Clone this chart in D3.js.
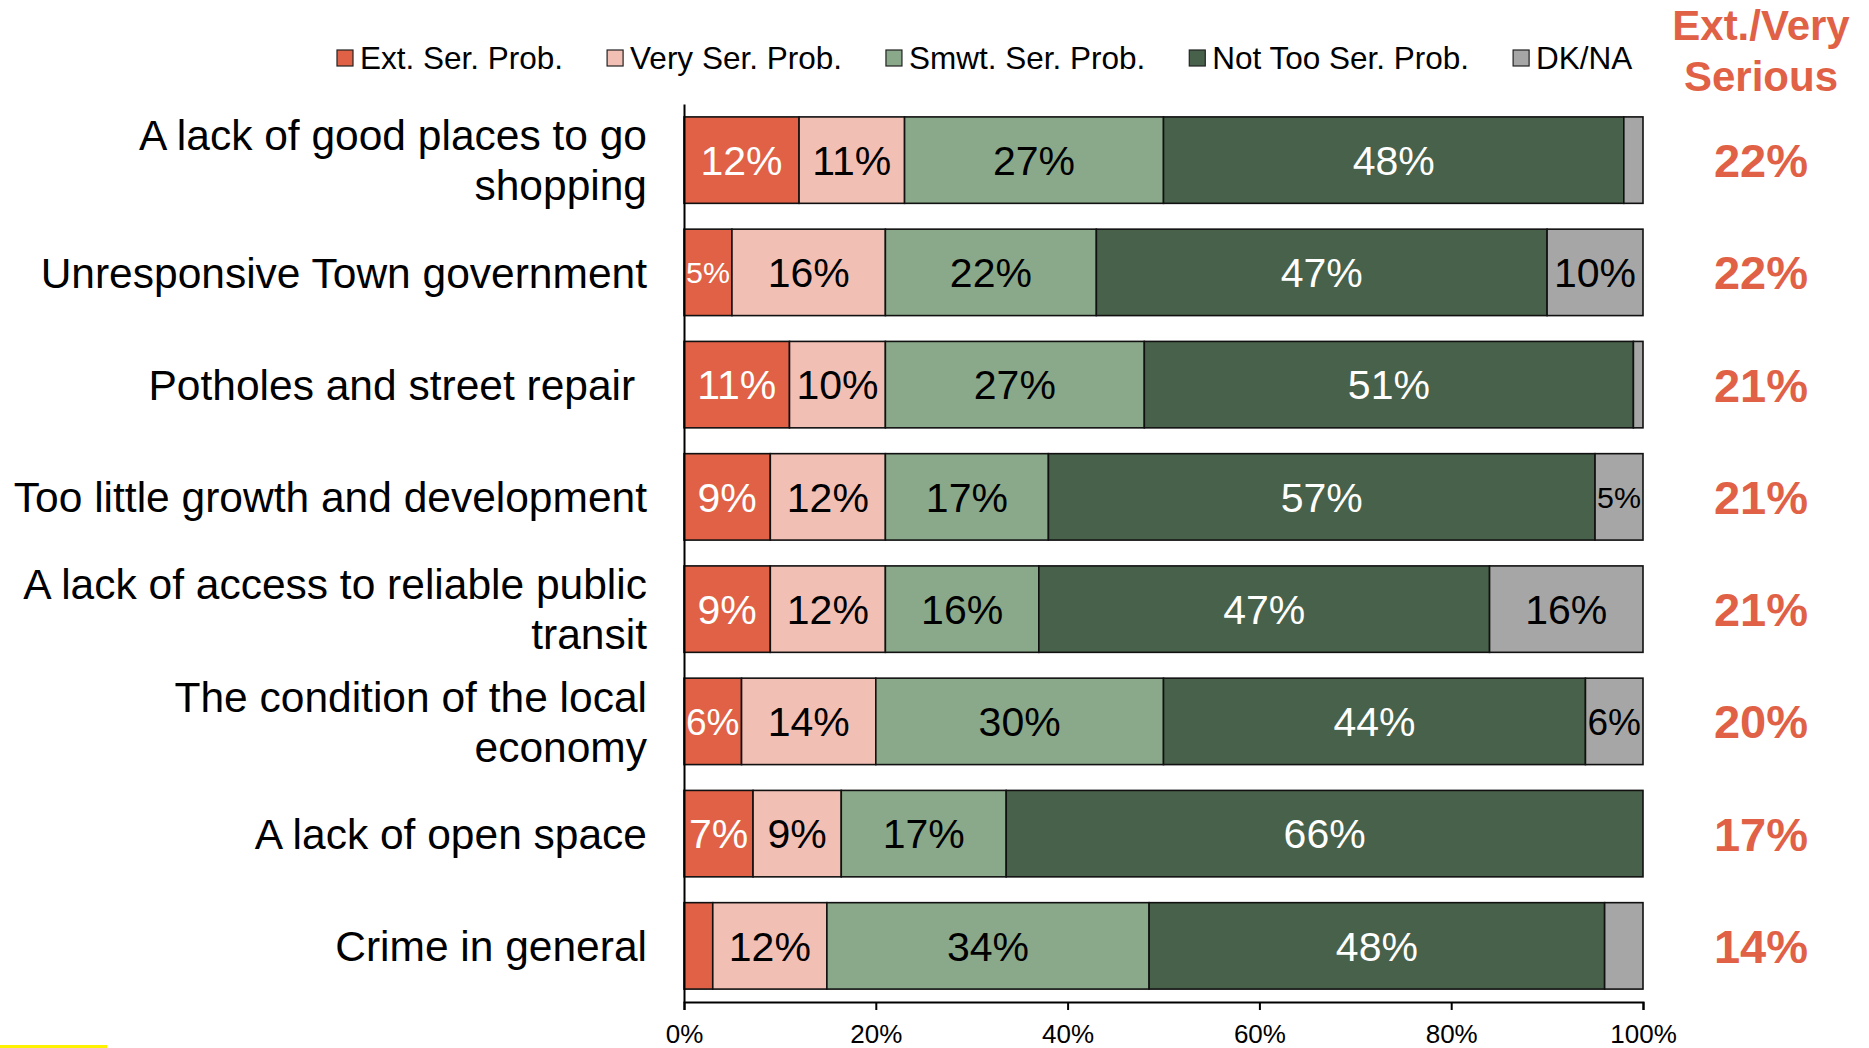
<!DOCTYPE html>
<html>
<head>
<meta charset="utf-8">
<script src="https://cdn.jsdelivr.net/npm/d3@7"></script>
<style>
  body { margin: 0; background: #fff; }
  svg text { font-family: "Liberation Sans", Arial, sans-serif; }
</style>
</head>
<body>
<script>

// chart data
var categories = [
    "A lack of good places to go shopping",
    "Unresponsive Town government",
    "Potholes and street repair ",
    "Too little growth and development",
    "A lack of access to reliable public transit",
    "The condition of the local economy",
    "A lack of open space",
    "Crime in general"
];
var seriesNames = ["Ext. Ser. Prob.", "Very Ser. Prob.", "Smwt. Ser. Prob.", "Not Too Ser. Prob.", "DK/NA"];
var extSer   = [12, 5, 11, 9, 9, 6, 7.2, 3];
var verySer  = [11, 16, 10, 12, 12, 14, 9.2, 11.9];
var smwtSer  = [27, 22, 27, 17, 16, 30, 17.2, 33.6];
var notToo   = [48, 47, 51, 57, 47, 44, 66.4, 47.5];
var dkna     = [2, 10, 1, 5, 16, 6, 0, 4];
var extVery  = [22, 22, 21, 21, 21, 20, 17, 14];
var xTicks   = [0, 20, 40, 60, 80, 100];

var colors = ["#e06145", "#f2bfb4", "#8aa98a", "#48614a", "#a6a6a6"];
var labelColors = ["#fff", "#000", "#000", "#fff", "#000"];
var accent = "#e06145";

var margin = {top: 104, right: 226, bottom: 46, left: 684},
    width = 1869 - margin.left - margin.right,
    height = 1048 - margin.top - margin.bottom;

var rows = categories.map(function(c, i) {
    return {cat: c, vals: [extSer[i], verySer[i], smwtSer[i], notToo[i], dkna[i]], total: extVery[i]};
});

var x = d3.scaleLinear().domain([0, 100]).range([0, width]);

var y = d3.scaleBand()
    .domain(categories)
    .range([0, height])
    .paddingInner(0.23)
    .paddingOuter(0.115);

var svg = d3.select("body").append("svg")
    .attr("width", width + margin.left + margin.right)
    .attr("height", height + margin.top + margin.bottom);

var main = svg.append("g")
    .attr("transform", "translate(" + margin.left + "," + margin.top + ")");

// stacked segments
var rowG = main.selectAll(".row")
    .data(rows)
    .enter().append("g")
    .attr("class", "row")
    .attr("transform", function(d) { return "translate(0," + y(d.cat) + ")"; });

rowG.each(function(d) {
    var g = d3.select(this);
    var acc = 0;
    var segs = d.vals.map(function(v, k) {
        var s = {k: k, v: v, x0: acc, x1: acc + v};
        acc += v;
        return s;
    }).filter(function(s) { return s.v > 0; });

    g.selectAll("rect")
        .data(segs)
        .enter().append("rect")
        .attr("x", function(s) { return x(s.x0); })
        .attr("width", function(s) { return x(s.x1) - x(s.x0); })
        .attr("y", 0)
        .attr("height", y.bandwidth())
        .attr("fill", function(s) { return colors[s.k]; })
        .attr("stroke", "#111")
        .attr("stroke-width", 1.6);

    g.selectAll("text")
        .data(segs.filter(function(s) { return Math.round(s.v) >= 5; }))
        .enter().append("text")
        .attr("x", function(s) { return (x(s.x0) + x(s.x1)) / 2; })
        .attr("y", y.bandwidth() / 2)
        .attr("dy", "0.36em")
        .attr("text-anchor", "middle")
        .attr("fill", function(s) { return labelColors[s.k]; })
        .style("font-size", "41px")
        .text(function(s) { return Math.round(s.v) + "%"; })
        .each(function(s) {
            // shrink labels that do not fit inside a narrow segment
            var avail = x(s.x1) - x(s.x0) - 4;
            var w = this.getComputedTextLength();
            if (w > avail) d3.select(this).style("font-size", (41 * avail / w) + "px");
        });
});

// x axis
var xAxis = d3.axisBottom(x)
    .tickValues(xTicks)
    .tickSize(8)
    .tickPadding(15)
    .tickFormat(function(d) { return d + "%"; });

var gx = main.append("g")
    .attr("transform", "translate(0," + height + ")")
    .call(xAxis);
gx.select(".domain").attr("stroke", "#000").attr("stroke-width", 2);
gx.selectAll(".tick line").attr("stroke", "#000").attr("stroke-width", 2);
gx.selectAll(".tick text").style("font-size", "26px").attr("fill", "#000");

// y axis
var yAxis = d3.axisLeft(y).tickSize(0).tickPadding(37);
var gy = main.append("g").call(yAxis);
gy.select(".domain").attr("stroke", "#000").attr("stroke-width", 2);
gy.selectAll(".tick text")
    .style("font-size", "42.5px")
    .style("white-space", "pre")
    .attr("fill", "#000")
    .call(wrap, 645);

function wrap(text, maxW) {
    text.each(function() {
        var t = d3.select(this),
            words = t.text().trim().split(/\s+/),
            trail = /\s$/.test(t.text()) ? " " : "",
            xPos = t.attr("x"),
            lines = [], line = [];
        t.text(null);
        var probe = t.append("tspan");
        words.forEach(function(w) {
            line.push(w);
            probe.text(line.join(" "));
            if (probe.node().getComputedTextLength() > maxW && line.length > 1) {
                line.pop();
                lines.push(line.join(" "));
                line = [w];
            }
        });
        lines.push(line.join(" ") + trail);
        probe.remove();
        var lh = 50, start = -(lines.length - 1) * lh / 2;
        lines.forEach(function(l, i) {
            t.append("tspan")
                .attr("x", xPos)
                .attr("y", start + i * lh)
                .attr("dy", "0.36em")
                .text(l);
        });
    });
}

// right-hand Ext./Very column
var rx = 1077;
main.selectAll(".total")
    .data(rows)
    .enter().append("text")
    .attr("class", "total")
    .attr("x", rx)
    .attr("y", function(d) { return y(d.cat) + y.bandwidth() / 2; })
    .attr("dy", "0.36em")
    .attr("text-anchor", "middle")
    .attr("fill", accent)
    .style("font-size", "47px")
    .style("font-weight", "bold")
    .text(function(d) { return d.total + "%"; });

main.selectAll(".head")
    .data(["Ext./Very", "Serious"])
    .enter().append("text")
    .attr("x", rx)
    .attr("y", function(d, i) { return -64 + i * 51; })
    .attr("text-anchor", "middle")
    .attr("fill", accent)
    .style("font-size", "42px")
    .style("font-weight", "bold")
    .text(function(d) { return d; });

// legend
var legend = svg.append("g").attr("transform", "translate(337,58)");
var lx = 0;
seriesNames.forEach(function(name, k) {
    var item = legend.append("g").attr("transform", "translate(" + lx + ",0)");
    item.append("rect")
        .attr("x", 0).attr("y", -8)
        .attr("width", 16).attr("height", 16)
        .attr("fill", colors[k])
        .attr("stroke", "#222")
        .attr("stroke-width", 1.2);
    var t = item.append("text")
        .attr("x", 23)
        .attr("dy", "0.36em")
        .style("font-size", "31.5px")
        .attr("fill", "#000")
        .text(name);
    lx += 23 + t.node().getComputedTextLength() + 44;
});

// yellow mark at the bottom-left corner of the slide
svg.append("rect")
    .attr("x", 0).attr("y", 1045)
    .attr("width", 107).attr("height", 3)
    .attr("fill", "#fff200");

</script>
</body>
</html>
